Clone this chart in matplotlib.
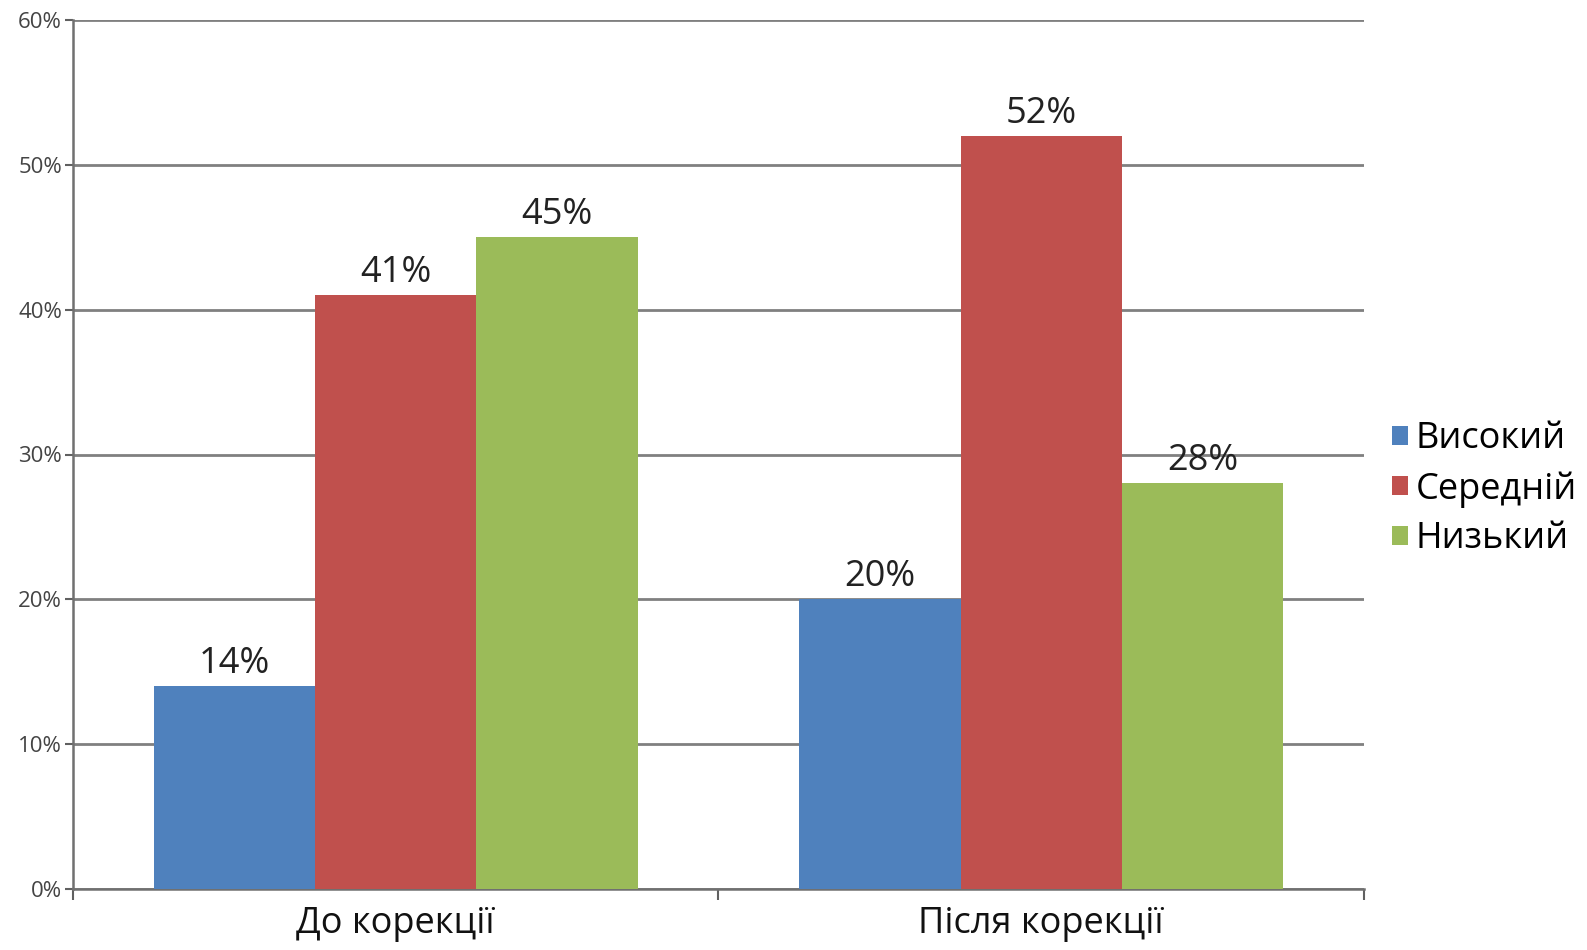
import numpy as np
import matplotlib
matplotlib.use("Agg")
import matplotlib.pyplot as plt
from matplotlib.ticker import FuncFormatter

# === DATA ===
categories = ["До корекції", "Після корекції"]
series_names = ["Високий", "Середній", "Низький"]
vysokyi = [14, 20]
serednii = [41, 52]
nyzkyi = [45, 28]
colors = ["#4f81bd", "#c0504d", "#9bbb59"]

plt.rcParams['font.family'] = ['Open Sans', 'DejaVu Sans']

fig = plt.figure(figsize=(15.87, 9.5), dpi=100)
ax = fig.add_axes([73 / 1587, 1 - 889 / 950, (1364 - 73) / 1587, (889 - 20) / 950])

x = np.arange(len(categories))
w = 0.25
for i, (vals, name) in enumerate(zip([vysokyi, serednii, nyzkyi], series_names)):
    bars = ax.bar(x + (i - 1) * w, vals, w, color=colors[i], label=name, zorder=3)
    for b, v in zip(bars, vals):
        ax.text(b.get_x() + b.get_width() / 2, v + 0.3, f"{v}%",
                ha='center', va='bottom', fontsize=26, color='#222222', zorder=4)

ax.set_xlim(-0.5, 1.5)
ax.set_ylim(0, 60)
ax.set_yticks(np.arange(0, 61, 10))
ax.yaxis.set_major_formatter(FuncFormatter(lambda v, p: f"{int(v)}%"))
ax.grid(True, axis='y', color='#808080', linewidth=2, zorder=1)

# category ticks at boundaries, labels at centres
ax.set_xticks([-0.5, 0.5, 1.5])
ax.set_xticklabels([])
ax.set_xticks(x, minor=True)
ax.set_xticklabels(categories, minor=True, fontsize=26, color='#111111')
ax.tick_params(axis='x', which='minor', length=0, pad=12)
ax.tick_params(axis='x', which='major', length=8, width=1.5, color='#606060', direction='out')
ax.tick_params(axis='y', length=6, width=1.5, color='#606060', labelsize=16,
               labelcolor='#444444', pad=2)

for s in ['top', 'right']:
    ax.spines[s].set_visible(False)
for s in ['left', 'bottom']:
    ax.spines[s].set_color('#707070')
    ax.spines[s].set_linewidth(1.8)

leg = fig.legend(loc='center left', bbox_to_anchor=(0.877, 0.485), frameon=False,
                 fontsize=26, handlelength=0.45, handleheight=0.45, handletextpad=0.2,
                 labelspacing=0.38, borderaxespad=0, borderpad=0)

fig.savefig("out.png", dpi=100)
